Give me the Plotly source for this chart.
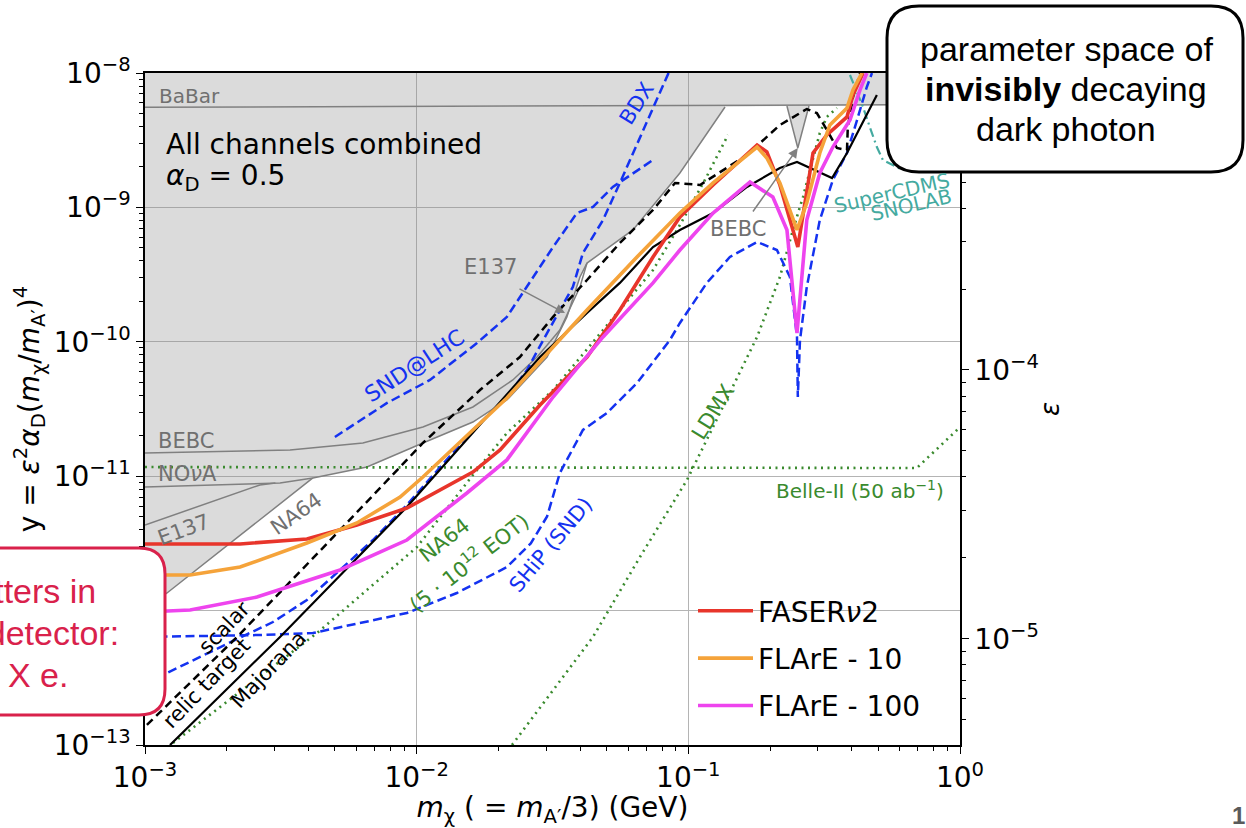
import numpy as np
import plotly.graph_objects as go

# ---------------------------------------------------------------------------
# Data: log10(m_chi / GeV) and log10(y)
# ---------------------------------------------------------------------------
# excluded (grey) region
excl_lx = [-3, 0, 0, -0.556, -0.597, -0.637, -0.865, -1.031, -1.204, -1.373, -1.399,
           -1.447, -1.520, -1.668, -1.793, -1.977, -2.183, -2.382, -2.919, -3]
excl_ly = [-8, -8, -8.235, -8.246, -8.558, -8.246, -8.250, -8.744, -9.168, -9.414, -9.518,
           -9.815, -10.113, -10.433, -10.597, -10.753, -10.932, -11.013, -11.869, -11.981]

babar_lx = [-3, 0]
babar_ly = [-8.255, -8.235]
spike_lx = [-0.637, -0.597, -0.556]
spike_ly = [-8.246, -8.558, -8.246]
nova_lx = [-3, -2.503, -2.382, -2.183, -1.977, -1.793, -1.668, -1.520, -1.447, -1.399,
           -1.373, -1.204, -1.031, -0.865]
nova_ly = [-11.080, -11.051, -11.013, -10.932, -10.753, -10.597, -10.433, -10.113, -9.815,
           -9.518, -9.414, -9.168, -8.744, -8.253]
bebc_lx = [-3, -2.466, -2.198, -1.977, -1.793, -1.646, -1.557, -1.473, -1.399, -1.373]
bebc_ly = [-10.827, -10.805, -10.753, -10.634, -10.485, -10.284, -10.113, -9.912, -9.592, -9.414]
e137_lx = [-3, -2.577, -2.52]
e137_ly = [-11.363, -11.065, -11.05]
na64old_lx = [-3, -2.919, -2.382]
na64old_ly = [-11.981, -11.869, -11.013]

# projections, green dotted
belle_lx = [-3, -0.159, -0.011, 0]
belle_ly = [-10.932, -10.939, -10.656, -10.634]
na64_lx = [-2.897, -2.367, -1.999, -1.793, -1.668, -1.498, -1.314, -1.130, -1.031, -0.939, -0.854]
na64_ly = [-12.985, -12.167, -11.527, -10.991, -10.679, -10.359, -9.912, -9.466, -9.131, -8.796, -8.461]
ldmx_lx = [-1.649, -1.351, -1.178, -1.005, -0.909, -0.810, -0.747, -0.663, -0.615, -0.578,
           -0.541, -0.516, -0.490, -0.453]
ldmx_ly = [-13.0, -12.196, -11.601, -11.028, -10.634, -10.232, -9.964, -9.518, -9.168, -8.923,
           -8.625, -8.446, -8.327, -8.260]

# SuperCDMS SNOLAB, teal dash-dot
cdms_lx = [-0.405, -0.379, -0.357, -0.332, -0.306, -0.284, -0.226, -0.074]
cdms_ly = [-8.015, -8.141, -8.253, -8.402, -8.551, -8.647, -8.707, -8.647]

# blue dashed projections
snd_lx = [-2.301, -2.109, -1.951, -1.778, -1.668, -1.594, -1.498, -1.410, -1.351, -1.278, -1.130]
snd_ly = [-10.708, -10.455, -10.284, -10.009, -9.815, -9.592, -9.295, -9.042, -8.997, -8.848, -8.647]
bdx_lx = [-3, -2.919, -2.676, -2.529, -2.404, -2.282, -2.161, -2.036, -1.914, -1.793, -1.668,
          -1.594, -1.520, -1.473, -1.425, -1.388, -1.314, -1.252, -1.178, -1.068]
bdx_ly = [-12.561, -12.464, -12.226, -12.085, -11.921, -11.698, -11.475, -11.214, -10.932,
          -10.656, -10.411, -10.210, -9.935, -9.763, -9.592, -9.339, -9.094, -8.818, -8.476, -7.978]
ship_lx = [-3, -2.588, -2.382, -2.036, -1.852, -1.668, -1.580, -1.520, -1.473, -1.388, -1.300,
           -1.189, -1.068, -1.031, -0.932, -0.847, -0.747, -0.674, -0.626, -0.600, -0.597, -0.589,
           -0.564, -0.516, -0.468, -0.416, -0.379, -0.343, -0.324]
ship_ly = [-12.196, -12.182, -12.167, -12.018, -11.869, -11.676, -11.500, -11.300, -10.976,
           -10.656, -10.530, -10.307, -9.987, -9.860, -9.562, -9.369, -9.257, -9.317, -9.518,
           -9.964, -10.411, -9.987, -9.592, -9.094, -8.796, -8.595, -8.350, -8.104, -8.0]

# relic targets
scalar_lx = [-2.993, -2.661, -2.282, -1.977, -1.767, -1.620, -1.498, -1.373, -1.252, -1.130,
             -1.049, -0.957, -0.784, -0.663, -0.564, -0.527, -0.490, -0.453, -0.416, -0.413,
             -0.394, -0.368]
scalar_ly = [-12.851, -12.196, -11.400, -10.753, -10.359, -10.113, -9.815, -9.540, -9.265,
             -9.019, -8.818, -8.833, -8.610, -8.387, -8.268, -8.298, -8.424, -8.558, -8.573,
             -8.402, -8.179, -8.0]
major_lx = [-2.908, -2.503, -2.036, -1.793, -1.546, -1.373, -1.252, -1.130, -1.031, -0.909,
            -0.784, -0.663, -0.600, -0.471, -0.416, -0.306]
major_ly = [-13.0, -12.196, -11.229, -10.679, -10.113, -9.786, -9.562, -9.295, -9.168, -9.042,
            -8.848, -8.707, -8.662, -8.781, -8.595, -8.164]

# FLArE / FASERnu2 sensitivities
faser_lx = [-3, -2.650, -2.404, -2.220, -2.036, -1.793, -1.693, -1.546, -1.373, -1.252, -1.130,
            -1.031, -0.909, -0.747, -0.711, -0.663, -0.597, -0.541, -0.490, -0.416, -0.394, -0.357]
faser_ly = [-11.504, -11.504, -11.467, -11.363, -11.237, -10.969, -10.805, -10.470, -10.113,
            -9.763, -9.369, -9.071, -8.833, -8.536, -8.588, -8.833, -9.295, -8.595, -8.461,
            -8.327, -8.164, -8.0]
flare10_lx = [-3, -2.834, -2.650, -2.404, -2.220, -2.061, -1.977, -1.793, -1.668, -1.498, -1.373,
              -1.189, -1.031, -0.909, -0.747, -0.711, -0.663, -0.600, -0.564, -0.516, -0.479,
              -0.416, -0.394, -0.361]
flare10_ly = [-11.735, -11.735, -11.676, -11.497, -11.348, -11.155, -11.006, -10.656, -10.418,
              -10.039, -9.763, -9.369, -9.042, -8.818, -8.551, -8.632, -8.818, -9.168, -8.967,
              -8.595, -8.387, -8.260, -8.126, -8.0]
flare100_lx = [-3, -2.834, -2.588, -2.282, -2.036, -1.815, -1.668, -1.498, -1.314, -1.130, -1.031,
               -0.909, -0.773, -0.689, -0.637, -0.600, -0.564, -0.516, -0.468, -0.405, -0.368, -0.343]
flare100_ly = [-12.010, -11.996, -11.899, -11.698, -11.475, -11.125, -10.879, -10.411, -9.964,
               -9.562, -9.317, -9.042, -8.811, -8.923, -9.168, -9.935, -9.094, -8.744, -8.551,
               -8.350, -8.126, -8.0]

legend_names = ["FASER<i>ν</i>2", "FLArE - 10", "FLArE - 100"]
alpha_D = 0.5
mass_ratio = 1.0 / 3.0
x_range = [-3, 0]
y_range = [-13, -8]
x_tick_exp = [-3, -2, -1, 0]
y_tick_exp = [-13, -12, -11, -10, -9, -8]
eps_tick_exp = [-5, -4]

# ---------------------------------------------------------------------------
F = "DejaVu Sans"
SLIDE = "Liberation Sans"
GREY = "#808080"
GREYTXT = "#707070"
BLUE = "rgb(20,50,240)"
GREEN = "#3a8a2e"
TEAL = "#44aaa0"
RED = "#e8352b"
ORANGE = "#f5a33a"
MAGENTA = "#ee44ee"
CRIMSON = "#d9214b"


def P(v):
    return list(10.0 ** np.asarray(v, dtype=float))


def sup(e):
    return "10<sup>" + str(e).replace("-", "−") + "</sup>"


fig = go.Figure()


def line(lx, ly, color, width, dash="solid", name=None, legend=False, group=None):
    fig.add_trace(go.Scatter(
        x=P(lx), y=P(ly), mode="lines", name=name, showlegend=legend,
        legendgroup=group, hoverinfo="skip",
        line=dict(color=color, width=width, dash=dash)))


# excluded region
fig.add_trace(go.Scatter(x=P(excl_lx), y=P(excl_ly), mode="lines", fill="toself",
                         fillcolor="rgba(140,140,140,0.31)", line=dict(width=0),
                         showlegend=False, hoverinfo="skip"))
for lx, ly in [(babar_lx, babar_ly), (spike_lx, spike_ly), (nova_lx, nova_ly),
               (bebc_lx, bebc_ly), (e137_lx, e137_ly), (na64old_lx, na64old_ly)]:
    line(lx, ly, GREY, 1.5)

DOT = "2px,4.5px"
line(belle_lx, belle_ly, GREEN, 2.6, DOT)
line(na64_lx, na64_ly, GREEN, 2.6, DOT)
line(ldmx_lx, ldmx_ly, GREEN, 2.6, DOT)
line(cdms_lx, cdms_ly, TEAL, 2.2, "9px,4px,2px,4px")

DASH = "9px,4.5px"
line(snd_lx, snd_ly, BLUE, 2.5, DASH)
line(bdx_lx, bdx_ly, BLUE, 2.5, DASH)
line(ship_lx, ship_ly, BLUE, 2.5, DASH)

line(scalar_lx, scalar_ly, "black", 2.5, "8px,5px")
line(major_lx, major_ly, "black", 2.2)

line(faser_lx, faser_ly, RED, 3.6, name=legend_names[0], legend=True, group="a")
line(flare10_lx, flare10_ly, ORANGE, 3.6, name=legend_names[1], legend=True, group="b")
line(flare100_lx, flare100_ly, MAGENTA, 3.6, name=legend_names[2], legend=True, group="c")

# empty trace that attaches the epsilon axis
fig.add_trace(go.Scatter(x=[], y=[], yaxis="y2", showlegend=False, hoverinfo="skip"))

# ---------------------------------------------------------------------------
# figure geometry (pixels)
W_FIG, H_FIG = 1246, 828
ML, MR, MT, MB = 145, 286, 73, 83
PW, PH = W_FIG - ML - MR, H_FIG - MT - MB


def PXp(px):
    return (px - ML) / PW


def PYp(py):
    return (MT + PH - py) / PH


def rrect(px0, py0, px1, py1, r):
    X, Y = PXp, PYp
    return (f"M {X(px0 + r)},{Y(py0)} L {X(px1 - r)},{Y(py0)} "
            f"Q {X(px1)},{Y(py0)} {X(px1)},{Y(py0 + r)} "
            f"L {X(px1)},{Y(py1 - r)} Q {X(px1)},{Y(py1)} {X(px1 - r)},{Y(py1)} "
            f"L {X(px0 + r)},{Y(py1)} Q {X(px0)},{Y(py1)} {X(px0)},{Y(py1 - r)} "
            f"L {X(px0)},{Y(py0 + r)} Q {X(px0)},{Y(py0)} {X(px0 + r)},{Y(py0)} Z")


shapes = [
    dict(type="path", xref="paper", yref="paper", layer="above",
         path=rrect(887, 6, 1243, 172, 32), fillcolor="white",
         line=dict(color="black", width=3)),
    dict(type="path", xref="paper", yref="paper", layer="above",
         path=rrect(-40, 548, 165, 715, 26), fillcolor="white",
         line=dict(color=CRIMSON, width=3)),
]


def lab(text, lx, ly, color, size=21, angle=0, xanchor="center", family=F):
    return dict(text=text, x=lx, y=ly, xref="x", yref="y", showarrow=False,
                font=dict(family=family, size=size, color=color),
                textangle=angle, xanchor=xanchor, yanchor="middle")


def plab(text, px, py, color, size, bold=False, family=SLIDE, xanchor="center"):
    t = f"<b>{text}</b>" if bold else text
    return dict(text=t, x=PXp(px), y=PYp(py), xref="paper", yref="paper",
                showarrow=False, font=dict(family=family, size=size, color=color),
                xanchor=xanchor, yanchor="middle")


ann = [
    lab("BaBar", -2.956, -8.171, GREYTXT, 20, xanchor="left"),
    lab("All channels combined", -2.930, -8.530, "black", 28, xanchor="left"),
    lab("<i>α</i><sub>D</sub> = 0.5", -2.930, -8.775, "black", 28, xanchor="left"),
    lab("E137", -1.727, -9.443, GREYTXT, 21),
    lab("BEBC", -0.817, -9.161, GREYTXT, 21),
    lab("BEBC", -2.849, -10.738, GREYTXT, 21),
    lab("NO<i>ν</i>A", -2.845, -10.984, GREYTXT, 21),
    lab("E137", -2.860, -11.400, GREYTXT, 21, -20),
    lab("NA64", -2.444, -11.281, GREYTXT, 21, -35),
    lab("scalar", -2.709, -12.129, "black", 21, -46),
    lab("relic target", -2.772, -12.539, "black", 21, -46),
    lab("Majorana", -2.547, -12.442, "black", 21, -46),
    lab("SND@LHC", -2.006, -10.180, BLUE, 22, -33),
    lab("BDX", -1.189, -8.223, BLUE, 21, -58),
    lab("NA64", -1.896, -11.475, GREEN, 21, -38),
    lab("(5 · 10<sup>12</sup> EOT)", -1.811, -11.638, GREEN, 21, -38),
    lab("SHiP (SND)", -1.506, -11.512, BLUE, 21, -50),
    lab("LDMX", -0.909, -10.522, GREEN, 21, -58),
    lab("Belle-II (50 ab<sup>−1</sup>)", -0.368, -11.103, GREEN, 20),
    lab("SuperCDMS", -0.251, -8.893, TEAL, 20, -13),
    lab("SNOLAB", -0.181, -8.982, TEAL, 20, -13),
    # arrows
    dict(x=-1.454, y=-9.786, ax=-1.627, ay=-9.600, xref="x", yref="y", axref="x", ayref="y",
         text="", showarrow=True, arrowhead=2, arrowsize=1.3, arrowwidth=1.5, arrowcolor=GREY),
    dict(x=-0.597, y=-8.558, ax=-0.766, ay=-9.042, xref="x", yref="y", axref="x", ayref="y",
         text="", showarrow=True, arrowhead=2, arrowsize=1.3, arrowwidth=1.5, arrowcolor=GREY),
    # slide boxes
    plab("parameter space of", 1066, 49, "black", 34),
    plab("<b>invisibly</b> decaying", 1066, 89, "black", 34),
    plab("dark photon", 1066, 129, "black", 34),
    plab("DM scatters in", 98, 591, CRIMSON, 34, xanchor="right"),
    plab("FLArE detector:", 121, 633, CRIMSON, 34, xanchor="right"),
    plab("X e → X e.", 70, 675, CRIMSON, 34, xanchor="right"),
    plab("1", 1238, 815, "#5a5a5a", 24, bold=True),
]

# epsilon axis: y = eps^2 * alpha_D * (m_chi/m_A')^4
shift = np.log10(alpha_D * mass_ratio ** 4)
eps_range = [(y_range[0] - shift) / 2.0, (y_range[1] - shift) / 2.0]

MINOR = dict(ticks="outside", ticklen=4, tickwidth=1, tickcolor="black",
             showgrid=False, tickmode="linear", dtick="D1")


def axis(exps):
    return dict(showline=True, linecolor="black", linewidth=1.5, ticks="outside",
                ticklen=7, tickwidth=1.4, tickcolor="black",
                tickfont=dict(family=F, size=28, color="black"),
                tickmode="array", tickvals=[10.0 ** e for e in exps],
                ticktext=[sup(e) for e in exps], minor=MINOR)


fig.update_layout(
    width=W_FIG, height=H_FIG,
    margin=dict(l=ML, r=MR, t=MT, b=MB, autoexpand=False),
    paper_bgcolor="white", plot_bgcolor="white",
    font=dict(family=F, color="black"),
    xaxis=dict(type="log", range=x_range, mirror=True, showgrid=True,
               gridcolor="#b4b4b4", gridwidth=1,
               title=dict(text="<i>m</i><sub>χ</sub> ( = <i>m</i><sub>A′</sub>/3) (GeV)",
                          font=dict(family=F, size=28), standoff=0),
               **axis(x_tick_exp)),
    yaxis=dict(type="log", range=y_range, mirror=True, showgrid=True,
               gridcolor="#b4b4b4", gridwidth=1,
               title=dict(text="y = <i>ε</i><sup>2</sup><i>α</i><sub>D</sub>(<i>m</i><sub>χ</sub>/<i>m</i><sub>A′</sub>)<sup>4</sup>",
                          font=dict(family=F, size=28), standoff=6),
               **axis(y_tick_exp)),
    yaxis2=dict(type="log", range=eps_range, overlaying="y", side="right", anchor="x",
                showgrid=False,
                title=dict(text="<i>ε</i>", font=dict(family=F, size=26), standoff=3),
                **axis(eps_tick_exp)),
    legend=dict(x=PXp(693), y=PYp(586), xanchor="left", yanchor="top",
                bgcolor="rgba(0,0,0,0)", borderwidth=0, traceorder="grouped",
                tracegroupgap=8, itemwidth=55,
                font=dict(family=F, size=28, color="black")),
    shapes=shapes,
    annotations=ann,
)

fig.write_html("out.html",
               config={"displayModeBar": False},
               post_script="document.body.style.margin='0px';"
                           "document.body.style.overflow='hidden';")
